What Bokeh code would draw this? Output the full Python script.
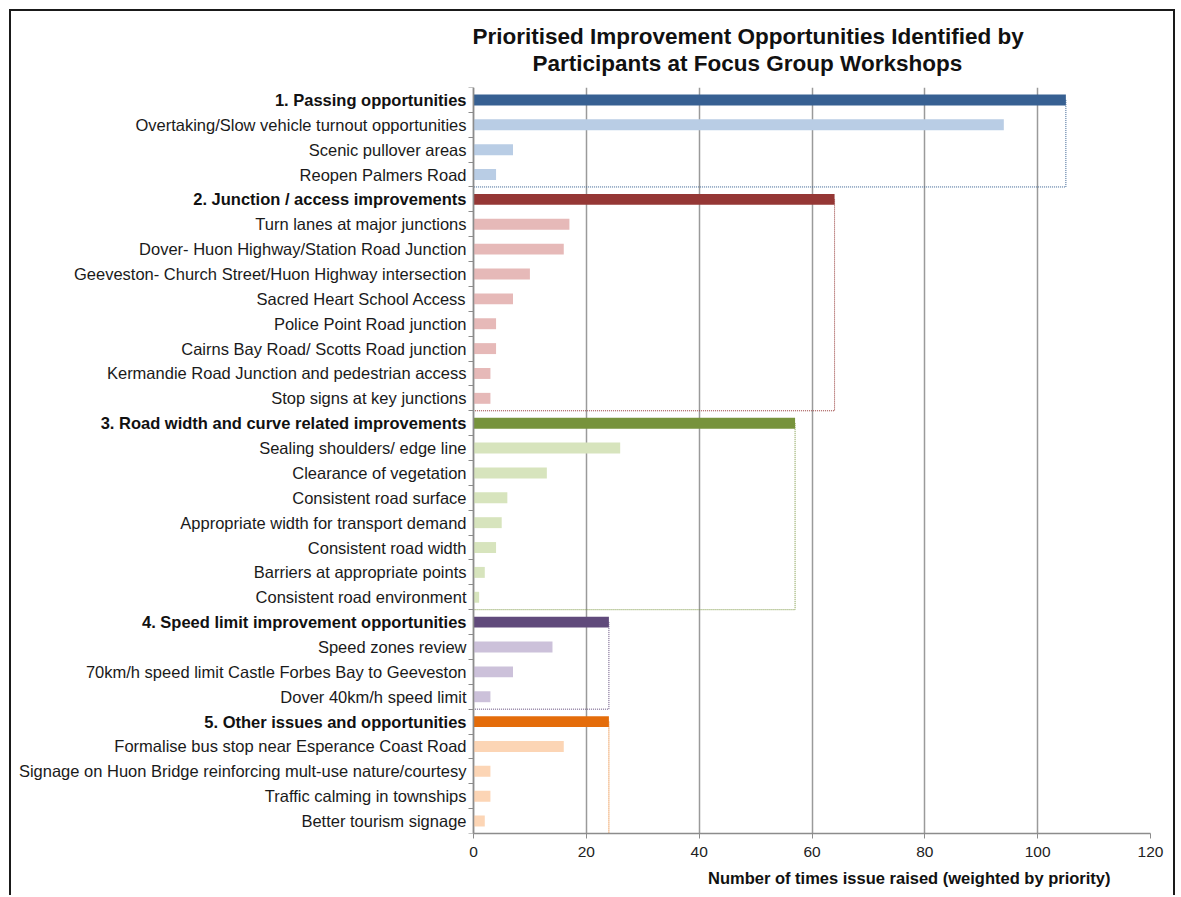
from bokeh.plotting import figure
from bokeh.models import Range1d, FixedTicker, ColumnDataSource, LinearAxis, Title
from bokeh.core.properties import value
from bokeh.embed import file_html
from bokeh.resources import INLINE

# ---------------- data ----------------
categories = [
    "1. Passing opportunities",
    "2. Junction / access improvements",
    "3. Road width and curve related improvements",
    "4. Speed limit improvement opportunities",
    "5. Other issues and opportunities",
]
category_values = [105, 64, 57, 24, 24]

passing_items = ["Overtaking/Slow vehicle turnout opportunities", "Scenic pullover areas", "Reopen Palmers Road"]
passing_values = [94, 7, 4]

junction_items = [
    "Turn lanes at major junctions",
    "Dover- Huon Highway/Station Road Junction",
    "Geeveston- Church Street/Huon Highway intersection",
    "Sacred Heart School Access",
    "Police Point Road junction",
    "Cairns Bay Road/ Scotts Road junction",
    "Kermandie Road Junction and pedestrian access",
    "Stop signs at key junctions",
]
junction_values = [17, 16, 10, 7, 4, 4, 3, 3]

road_items = [
    "Sealing shoulders/ edge line",
    "Clearance of vegetation",
    "Consistent road surface",
    "Appropriate width for transport demand",
    "Consistent road width",
    "Barriers at appropriate points",
    "Consistent road environment",
]
road_values = [26, 13, 6, 5, 4, 2, 1]

speed_items = ["Speed zones review", "70km/h speed limit Castle Forbes Bay to Geeveston", "Dover 40km/h speed limit"]
speed_values = [14, 7, 3]

other_items = [
    "Formalise bus stop near Esperance Coast Road",
    "Signage on Huon Bridge reinforcing mult-use nature/courtesy",
    "Traffic calming in townships",
    "Better tourism signage",
]
other_values = [16, 3, 3, 2]

x_ticks = [0, 20, 40, 60, 80, 100, 120]

dark_colors = ["#376092", "#953735", "#77933C", "#604A7B", "#E46C0A"]
light_colors = ["#B9CDE5", "#E6B9B8", "#D7E4BD", "#CCC1DA", "#FCD5B5"]

title_line1 = "Prioritised Improvement Opportunities Identified by"
title_line2 = "Participants at Focus Group Workshops"
x_label = "Number of times issue raised (weighted by priority)"

# ---------------- build rows ----------------
group_items = [passing_items, junction_items, road_items, speed_items, other_items]
group_values = [passing_values, junction_values, road_values, speed_values, other_values]

labels, values, colors, is_cat = [], [], [], []
for g, cat in enumerate(categories):
    labels.append(cat); values.append(category_values[g]); colors.append(dark_colors[g]); is_cat.append(True)
    for it, v in zip(group_items[g], group_values[g]):
        labels.append(it); values.append(v); colors.append(light_colors[g]); is_cat.append(False)

n = len(labels)
pos = [n - 1 - i for i in range(n)]

bars = ColumnDataSource(dict(y=pos, right=values, color=colors, label=labels))
item_src = ColumnDataSource(dict(
    x=[0] * (n - len(categories)),
    y=[pp for pp, c in zip(pos, is_cat) if not c],
    text=[l for l, c in zip(labels, is_cat) if not c],
))
cat_src = ColumnDataSource(dict(
    x=[0] * len(categories),
    y=[pp for pp, c in zip(pos, is_cat) if c],
    text=[l for l, c in zip(labels, is_cat) if c],
))

# dotted group boxes
box_xs, box_ys, box_colors = [], [], []
idx = 0
for g in range(len(categories)):
    pc = pos[idx]
    idx += 1 + len(group_items[g])
    bottom = pos[idx - 1] - 0.5
    v = category_values[g]
    box_xs.append([v, v, 0]); box_ys.append([pc, bottom, bottom]); box_colors.append(dark_colors[g])

FONT = "Liberation Sans"
LABEL_SIZE = "16.5px"

# the frame also holds the label column left of x = 0 (460 px of 1137 px frame)
x_max = x_ticks[-1]
x_min = -x_max * 460 / 677

p = figure(
    width=1166, height=886,
    x_range=Range1d(x_min, x_max), y_range=Range1d(-0.5, n - 0.5),
    output_backend="svg", toolbar_location=None, title=None,
    min_border_left=2, min_border_right=27, min_border_top=76, min_border_bottom=64,
)
p.margin = (9, 0, 0, 9)
p.styles = {"border-top": "2px solid #1a1a1a", "border-left": "2px solid #1a1a1a",
            "border-right": "2px solid #1a1a1a"}
p.outline_line_color = None
p.background_fill_color = "white"
p.border_fill_color = "white"

p.xgrid.ticker = FixedTicker(ticks=x_ticks)
p.xgrid.grid_line_color = "#9A9A9A"
p.xgrid.grid_line_width = 1.5
p.ygrid.visible = False

p.hbar(y="y", left=0, right="right", height=0.44, color="color", line_color=None, source=bars)
p.multi_line(xs=box_xs, ys=box_ys, line_color=box_colors, line_dash="1 1", line_width=1)

# row labels (regular items, bold group headings)
p.text(x="x", y="y", text="text", source=item_src, x_offset=-7,
       text_align="right", text_baseline="middle",
       text_font=value(FONT), text_font_size=value(LABEL_SIZE), text_color="#1a1a1a")
p.text(x="x", y="y", text="text", source=cat_src, x_offset=-7,
       text_align="right", text_baseline="middle",
       text_font=value(FONT), text_font_size=value(LABEL_SIZE), text_font_style="bold",
       text_color="#111111")

# x axis
p.xaxis.ticker = FixedTicker(ticks=x_ticks)
p.xaxis.bounds = (0, x_max)
p.xaxis.axis_line_color = "#8C8C8C"
p.xaxis.axis_line_width = 1.5
p.xaxis.major_tick_line_color = "#8C8C8C"
p.xaxis.major_tick_in = 0
p.xaxis.major_tick_out = 5
p.xaxis.minor_tick_line_color = None
p.xaxis.major_label_text_font = FONT
p.xaxis.major_label_text_font_size = "15.5px"
p.xaxis.major_label_text_color = "#222222"
p.xaxis.major_label_standoff = 8

# y axis drawn at x = 0, with small ticks between rows
p.yaxis.visible = False
y_axis = LinearAxis(
    fixed_location=0,
    ticker=FixedTicker(ticks=pos, minor_ticks=[pp - 0.5 for pp in pos] + [n - 0.5]),
    major_label_overrides={pp: "" for pp in pos},
    axis_line_color="#8C8C8C", axis_line_width=1.5,
    major_tick_line_color=None, major_tick_in=0, major_tick_out=0,
    minor_tick_line_color="#8C8C8C", minor_tick_in=0, minor_tick_out=5,
)
p.add_layout(y_axis, "left")

# axis title (placed below, right-aligned to match reference)
p.add_layout(Title(text=x_label, align="right", offset=40, text_font=FONT,
                   text_font_size="16.5px", text_font_style="bold", text_color="#111111",
                   standoff=14), "below")

# two-line chart title (spacer keeps the gap to the plot area)
p.add_layout(Title(text=" ", text_font_size="1px", standoff=9), "above")
p.add_layout(Title(text=title_line2, align="left", offset=519, text_font=FONT,
                   text_font_size="22.5px", text_font_style="bold", text_color="#111111",
                   standoff=0), "above")
p.add_layout(Title(text=title_line1, align="left", offset=459, text_font=FONT,
                   text_font_size="22.5px", text_font_style="bold", text_color="#111111",
                   standoff=0), "above")

open("out.html", "w").write(file_html(p, INLINE))
